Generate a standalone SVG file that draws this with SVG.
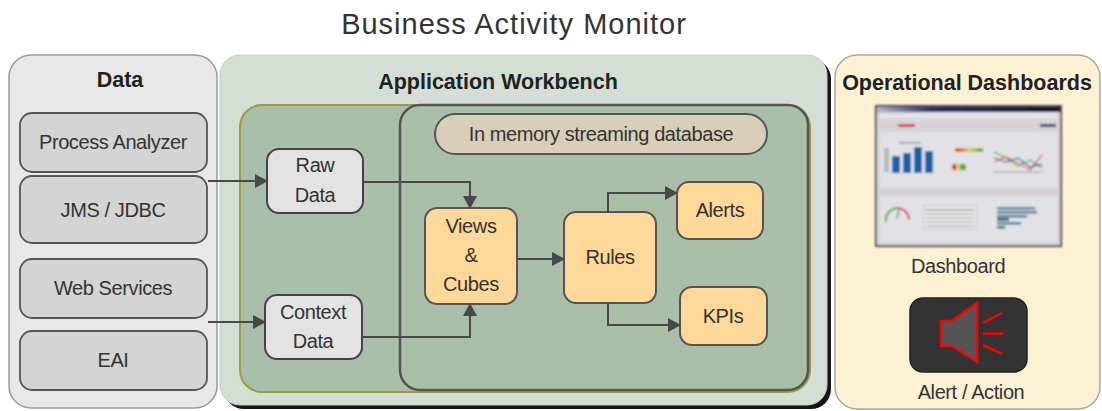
<svg xmlns="http://www.w3.org/2000/svg" width="1102" height="411" viewBox="0 0 1102 411">
  <style>
    text { font-family: "Liberation Sans", Arial, sans-serif; fill: #333; }
    .title { font-size: 29px; letter-spacing: 1px; }
    .head { font-size: 21.5px; font-weight: bold; fill: #222; }
    .lbl { font-size: 20px; letter-spacing: -0.4px; }
    .src { fill: #d4d4d4; stroke: #555; stroke-width: 1.8; }
    .stage { fill: #e3e3e3; stroke: #444; stroke-width: 2; }
    .proc { fill: #fed898; stroke: #555; stroke-width: 2; }
    .conn { fill: none; stroke: #484848; stroke-width: 2; }
  </style>
  <defs>
    <marker id="arrow" markerUnits="userSpaceOnUse" markerWidth="14" markerHeight="14" refX="12" refY="7" orient="auto">
      <path d="M0,0 L13,7 L0,14 z" fill="#484848"/>
    </marker>
    <filter id="soft" x="-5%" y="-5%" width="110%" height="110%">
      <feGaussianBlur stdDeviation="0.8"/>
    </filter>
    <linearGradient id="meter" x1="0" x2="1" y1="0" y2="0">
      <stop offset="0" stop-color="#d33"/>
      <stop offset="0.5" stop-color="#e8d040"/>
      <stop offset="1" stop-color="#4a4"/>
    </linearGradient>
    <linearGradient id="topbar" x1="0" x2="1" y1="0" y2="0">
      <stop offset="0" stop-color="#b8b8c8"/>
      <stop offset="0.3" stop-color="#2a2a6a"/>
      <stop offset="1" stop-color="#141430"/>
    </linearGradient>
  </defs>

  <text class="title" x="514" y="34" text-anchor="middle">Business Activity Monitor</text>

  <!-- Data sources -->
  <g id="data">
    <rect x="9" y="55" width="208" height="353" rx="22" fill="#e8e8e8" stroke="#9a9a9a" stroke-width="1.5"/>
    <text class="head" x="120" y="87" text-anchor="middle">Data</text>
  </g>
  <g id="process-analyzer">
    <rect class="src" x="20" y="113" width="187" height="59" rx="12"/>
    <text class="lbl" x="113" y="149" text-anchor="middle">Process Analyzer</text>
  </g>
  <g id="jms-jdbc">
    <rect class="src" x="20" y="176" width="187" height="67" rx="12"/>
    <text class="lbl" x="113" y="217" text-anchor="middle">JMS / JDBC</text>
  </g>
  <g id="web-services">
    <rect class="src" x="20" y="259" width="187" height="59" rx="12"/>
    <text class="lbl" x="113" y="295" text-anchor="middle">Web Services</text>
  </g>
  <g id="eai">
    <rect class="src" x="20" y="331" width="187" height="59" rx="12"/>
    <text class="lbl" x="113" y="367" text-anchor="middle">EAI</text>
  </g>

  <!-- Application Workbench -->
  <g id="workbench">
    <rect x="224" y="59" width="607" height="350" rx="20" fill="#151515"/>
    <rect x="220" y="55" width="607" height="350" rx="20" fill="#d4ded4" stroke="#c4cec4" stroke-width="1"/>
    <text class="head" x="498" y="89" text-anchor="middle">Application Workbench</text>
    <rect x="240" y="105" width="570" height="287" rx="22" fill="#aabfaa" stroke="#9c9c3c" stroke-width="2"/>
  </g>
  <g id="streaming-db">
    <rect x="400" y="105" width="408" height="285" rx="20" fill="#aabfaa" stroke="#555" stroke-width="2.5"/>
    <rect x="435" y="114" width="332" height="40" rx="20" fill="#d9cfb8" stroke="#555" stroke-width="2"/>
    <text class="lbl" x="601" y="141" text-anchor="middle">In memory streaming database</text>
  </g>
  <g id="raw-data">
    <rect class="stage" x="267" y="149" width="96" height="64" rx="12"/>
    <text class="lbl" x="315" y="172" text-anchor="middle">Raw</text>
    <text class="lbl" x="315" y="202" text-anchor="middle">Data</text>
  </g>
  <g id="context-data">
    <rect class="stage" x="265" y="295" width="97" height="64" rx="12"/>
    <text class="lbl" x="313" y="319" text-anchor="middle">Context</text>
    <text class="lbl" x="313" y="348" text-anchor="middle">Data</text>
  </g>
  <g id="views-cubes">
    <rect class="proc" x="425" y="208" width="92" height="96" rx="12"/>
    <text class="lbl" x="471" y="233" text-anchor="middle">Views</text>
    <text class="lbl" x="471" y="262" text-anchor="middle">&amp;</text>
    <text class="lbl" x="471" y="291" text-anchor="middle">Cubes</text>
  </g>
  <g id="rules">
    <rect class="proc" x="564" y="212" width="92" height="91" rx="12"/>
    <text class="lbl" x="610" y="264" text-anchor="middle">Rules</text>
  </g>
  <g id="alerts">
    <rect class="proc" x="677" y="182" width="86" height="57" rx="12"/>
    <text class="lbl" x="720" y="217" text-anchor="middle">Alerts</text>
  </g>
  <g id="kpis">
    <rect class="proc" x="680" y="287" width="87" height="58" rx="12"/>
    <text class="lbl" x="723" y="323" text-anchor="middle">KPIs</text>
  </g>

  <!-- Connectors -->
  <g id="connectors">
    <path class="conn" d="M208,181 H267" marker-end="url(#arrow)"/>
    <path class="conn" d="M208,322 H265" marker-end="url(#arrow)"/>
    <path class="conn" d="M363,182 H470 V208" marker-end="url(#arrow)"/>
    <path class="conn" d="M362,337 H470 V304" marker-end="url(#arrow)"/>
    <path class="conn" d="M517,259 H564" marker-end="url(#arrow)"/>
    <path class="conn" d="M608,212 V193 H677" marker-end="url(#arrow)"/>
    <path class="conn" d="M608,303 V325 H680" marker-end="url(#arrow)"/>
  </g>

  <!-- Operational Dashboards -->
  <g id="dashboards">
    <rect x="835" y="55" width="265" height="354" rx="22" fill="#fdf1d4" stroke="#a8a8a8" stroke-width="1.5"/>
    <text class="head" x="967" y="90" text-anchor="middle">Operational Dashboards</text>
  </g>
  <g id="dashboard">
    <g filter="url(#soft)">
      <rect x="876" y="106" width="185" height="140" fill="#d6d6da" stroke="#4a4a4a" stroke-width="2"/>
      <rect x="877" y="107" width="183" height="5" fill="url(#topbar)"/>
      <rect x="880" y="114" width="177" height="4" fill="#e6e6ea"/>
      <rect x="880" y="123" width="177" height="5" fill="#dccfd4"/>
      <rect x="898" y="124" width="17" height="3" fill="#d63a3a"/>
      <rect x="1040" y="124" width="16" height="3" fill="#3a3a7a"/>
      <rect x="880" y="132" width="177" height="55" fill="#e2e2e6"/>
      <!-- bar chart -->
      <rect x="892" y="156" width="8" height="17" fill="#1a5fa8"/>
      <rect x="903" y="153" width="8" height="20" fill="#1a5fa8"/>
      <rect x="914" y="147" width="8" height="26" fill="#1a5fa8"/>
      <rect x="925" y="151" width="8" height="22" fill="#1a5fa8"/>
      <rect x="899" y="142" width="22" height="1.5" fill="#88a"/>
      <rect x="884" y="148" width="5" height="24" fill="#b8b8c0"/>
      <!-- meter -->
      <rect x="955" y="148" width="28" height="4" fill="url(#meter)"/>
      <circle cx="955" cy="167" r="3.2" fill="#d33"/>
      <circle cx="959" cy="167" r="3.2" fill="#e8d040"/>
      <circle cx="963" cy="167" r="3.2" fill="#4a4"/>
      <!-- line chart -->
      <polyline points="994,152 1006,158 1018,166 1030,160 1042,168" fill="none" stroke="#4a4" stroke-width="1.3"/>
      <polyline points="994,162 1006,157 1018,163 1030,170 1042,155" fill="none" stroke="#d55" stroke-width="1.3"/>
      <polyline points="994,158 1006,162 1018,158 1030,167 1042,164" fill="none" stroke="#55a" stroke-width="1.3"/>
      <line x1="993" y1="172" x2="1043" y2="172" stroke="#999" stroke-width="1"/>
      <rect x="880" y="190" width="177" height="4" fill="#d8ccd0"/>
      <rect x="880" y="197" width="177" height="45" fill="#e2e2e6"/>
      <!-- gauge -->
      <path d="M886,222 A12,12 0 0 1 897,208" fill="none" stroke="#4a4" stroke-width="2.2"/>
      <path d="M897,208 A12,12 0 0 1 909,220" fill="none" stroke="#d44" stroke-width="2.2"/>
      <line x1="897" y1="219" x2="899" y2="209" stroke="#555" stroke-width="1"/>
      <!-- table -->
      <rect x="924" y="206" width="52" height="23" fill="#eeeef0" stroke="#aaa" stroke-width="0.6"/>
      <line x1="926" y1="210" x2="974" y2="210" stroke="#666" stroke-width="1"/>
      <line x1="926" y1="214" x2="974" y2="214" stroke="#999" stroke-width="1"/>
      <line x1="926" y1="218" x2="974" y2="218" stroke="#999" stroke-width="1"/>
      <line x1="926" y1="222" x2="974" y2="222" stroke="#999" stroke-width="1"/>
      <line x1="926" y1="226" x2="974" y2="226" stroke="#999" stroke-width="1"/>
      <!-- horizontal bars -->
      <rect x="997" y="207" width="38" height="2.5" fill="#4a7a9a"/>
      <rect x="997" y="211" width="40" height="2.5" fill="#4a7a9a"/>
      <rect x="997" y="215" width="30" height="2.5" fill="#4a7a9a"/>
      <rect x="997" y="218" width="12" height="3" fill="#1a6a5a"/>
      <rect x="997" y="222" width="24" height="2.5" fill="#4a7a9a"/>
      <rect x="997" y="226" width="8" height="2.5" fill="#1a6a5a"/>
    </g>
    <text class="lbl" x="958" y="273" text-anchor="middle">Dashboard</text>
  </g>
  <g id="alert-action">
    <rect x="910" y="298" width="117" height="74" rx="13" fill="#333" stroke="#222" stroke-width="1.5"/>
    <polygon points="941,321 952,321 977,303 977,362 952,346 941,346" fill="#555" stroke="#f00" stroke-width="2.5" stroke-linejoin="miter"/>
    <line x1="983" y1="323" x2="1002" y2="313" stroke="#f00" stroke-width="2.5"/>
    <line x1="983" y1="333.5" x2="1003" y2="333.5" stroke="#f00" stroke-width="2.5"/>
    <line x1="983" y1="345" x2="1002" y2="354" stroke="#f00" stroke-width="2.5"/>
    <text class="lbl" x="971" y="399" text-anchor="middle">Alert / Action</text>
  </g>
</svg>
